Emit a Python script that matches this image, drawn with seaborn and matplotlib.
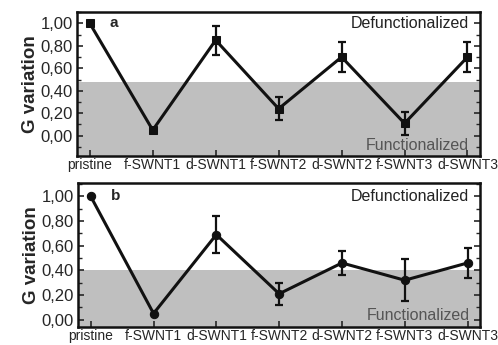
import numpy as np
import pandas as pd
import matplotlib
matplotlib.use("Agg")
import matplotlib.pyplot as plt
import seaborn as sns
from matplotlib.ticker import MultipleLocator, FuncFormatter

sns.set_theme(style="white")
plt.rcParams['font.family'] = ['Liberation Sans', 'DejaVu Sans']

samples = ["pristine", "f-SWNT1", "d-SWNT1", "f-SWNT2", "d-SWNT2", "f-SWNT3", "d-SWNT3"]

g_a = [1.00, 0.05, 0.85, 0.24, 0.70, 0.11, 0.70]
err_a = [0.0, 0.0, 0.13, 0.10, 0.13, 0.10, 0.13]

g_b = [1.00, 0.05, 0.69, 0.21, 0.46, 0.32, 0.46]
err_b = [0.0, 0.0, 0.15, 0.09, 0.095, 0.17, 0.12]

# shaded "functionalized" zone upper limit
band_a = 0.48
band_b = 0.40

fig = plt.figure(figsize=(4.98, 3.45), dpi=100)
ax_a = fig.add_axes([0.155, 0.548, 0.809, 0.417])
ax_b = fig.add_axes([0.157, 0.052, 0.807, 0.418])

panels = [
    (ax_a, g_a, err_a, band_a, "s", "a", (-0.18, 1.10)),
    (ax_b, g_b, err_b, band_b, "o", "b", (-0.06, 1.11)),
]

comma = FuncFormatter(lambda v, p: f"{v:.2f}".replace(".", ","))

for ax, vals, errs, band, mk, tag, ylim in panels:
    df = pd.DataFrame({"x": np.arange(len(samples)), "g": vals, "err": errs})
    ax.axhspan(ylim[0], band, color="#bfbfbf", lw=0, zorder=0)
    ax.errorbar(df["x"], df["g"], yerr=df["err"], fmt="none", ecolor="#111111",
                elinewidth=1.6, capsize=3, capthick=1.6, zorder=2)
    sns.lineplot(data=df, x="x", y="g", ax=ax, color="#111111", lw=2.2,
                 marker=mk, markersize=6, markeredgecolor="#111111", zorder=3)
    ax.set_xlim(-0.2, 6.2)
    ax.set_ylim(*ylim)
    ax.set_xticks(df["x"])
    ax.set_xticklabels(samples, fontsize=10)
    ax.yaxis.set_minor_locator(MultipleLocator(0.1))
    ax.set_yticks(np.arange(0, 1.01, 0.2))
    ax.yaxis.set_major_formatter(comma)
    ax.tick_params(axis="y", labelsize=12, direction="in", length=4, width=1.2,
                   right=True, left=True, pad=3)
    ax.tick_params(axis="y", which="minor", direction="in", length=3, width=1,
                   right=True, left=True)
    ax.tick_params(axis="x", direction="in", length=4, width=1.2, bottom=True, pad=1.5)
    for s in ax.spines.values():
        s.set_linewidth(1.8)
        s.set_color("#111111")
    ax.set_xlabel("")
    ax.set_ylabel("G variation", fontsize=13.5, fontweight="bold", labelpad=1)
    ax.text(0.32, 1.0, tag, fontsize=11, fontweight="bold", va="center")
    ax.text(6.03, 1.0, "Defunctionalized", fontsize=11.5,
            ha="right", va="center", color="#222222")
    ax.text(6.03, ylim[0] + 0.09, "Functionalized", fontsize=11.5,
            ha="right", va="center", color="#555555")

fig.savefig("out.png", dpi=100)
